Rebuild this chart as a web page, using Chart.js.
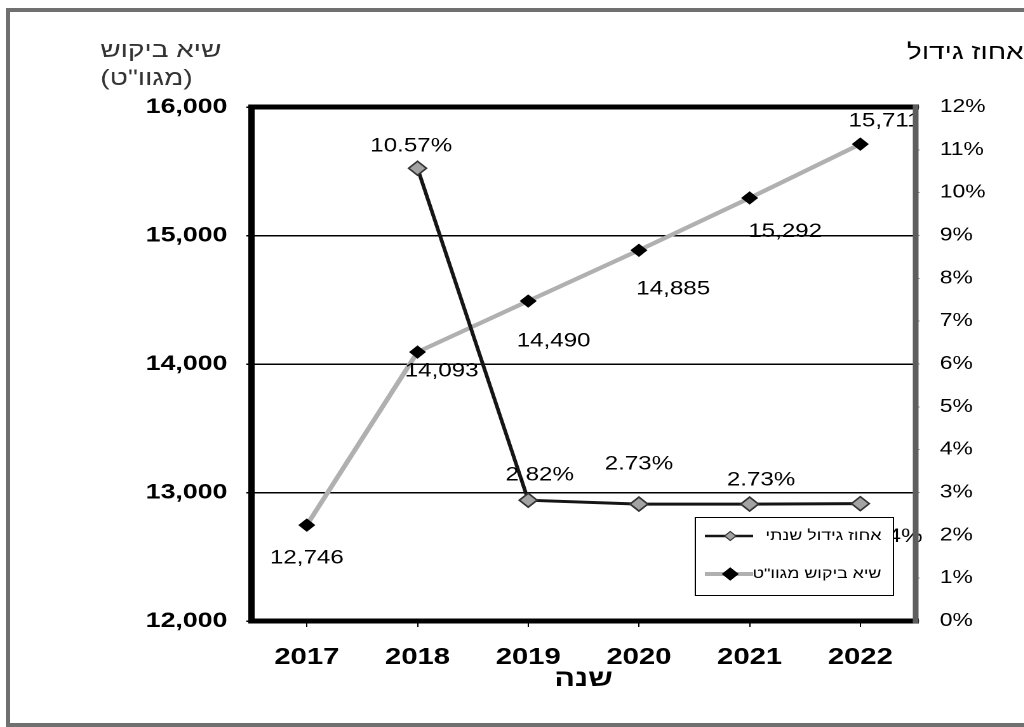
<!DOCTYPE html>
<html>
<head>
<meta charset="utf-8">
<script src="https://cdn.jsdelivr.net/npm/chart.js"></script>
<style>
  html, body { margin: 0; padding: 0; background: #fff; overflow: hidden; }
  #frame { position: absolute; left: 6px; top: 8px; width: 1100px; height: 711px; border: 4px solid #707070; }
  /* the chart is laid out narrow and stretched sideways */
  #wrap { position: absolute; left: 0; top: 0; width: 806px; height: 727px; transform: scaleX(1.27); transform-origin: 0 0; }
</style>
</head>
<body>
<div id="frame"></div>
<div id="wrap"><canvas id="peakChart" width="806" height="727"></canvas></div>
<script>
const FONT = "Arial, 'Liberation Sans', 'DejaVu Sans', sans-serif";

// data
const years = ['2017', '2018', '2019', '2020', '2021', '2022'];
const peakDemand = [12746, 14093, 14490, 14885, 15292, 15711];   // MW
const growthPct = [null, 10.57, 2.82, 2.73, 2.73, 2.74];         // %
const demandAxis = { min: 12000, max: 16000, step: 1000 };
const growthAxis = { min: 0, max: 12, step: 1 };
const growthLabel = 'אחוז גידול שנתי';
const demandLabel = 'שיא ביקוש מגוו"ט';

// where each value label sits relative to its point
const demandLabelOffsets = [[0, 33], [19, 19], [20, 40], [27, 39], [28, 34], [19, -23]];
const growthLabelOffsets = [null, [-5, -22], [9, -25], [0, -40], [9, -24], [22, 33]];

Chart.defaults.font.family = FONT;
Chart.defaults.color = '#000';

function drawValueLabels(c, meta, values, offsets, fmt) {
  meta.data.forEach((pt, i) => {
    if (values[i] == null || !offsets[i]) return;
    c.fillText(fmt(values[i]), pt.x + offsets[i][0], pt.y + offsets[i][1]);
  });
}

function drawDiamond(c, x, y, r, fill, stroke, lw) {
  c.beginPath();
  c.moveTo(x, y - r); c.lineTo(x + r, y); c.lineTo(x, y + r); c.lineTo(x - r, y); c.closePath();
  c.fillStyle = fill; c.fill();
  c.lineWidth = lw; c.strokeStyle = stroke; c.stroke();
}

const chartDecor = {
  id: 'chartDecor',
  afterDatasetsDraw(chart) {
    const c = chart.ctx;
    const area = chart.chartArea;
    const ds = chart.data.datasets;
    c.save();

    // value labels (demand labels are cut off at the plot edge)
    c.font = '19px ' + FONT;
    c.fillStyle = '#000';
    c.textAlign = 'center';
    c.textBaseline = 'middle';
    c.save();
    c.beginPath();
    c.rect(0, 0, area.right, chart.height);
    c.clip();
    drawValueLabels(c, chart.getDatasetMeta(1), peakDemand, demandLabelOffsets, v => v.toLocaleString('en-US'));
    c.restore();
    drawValueLabels(c, chart.getDatasetMeta(0), growthPct, growthLabelOffsets, v => v.toFixed(2) + '%');

    // plot frame: heavy black on three sides, grey on the right
    c.lineCap = 'square';
    c.strokeStyle = '#000';
    c.lineWidth = 5;
    c.beginPath();
    c.moveTo(area.right, area.top);
    c.lineTo(area.left, area.top);
    c.lineTo(area.left, area.bottom);
    c.lineTo(area.right, area.bottom);
    c.stroke();
    c.strokeStyle = '#5e5e5e';
    c.lineWidth = 4.5;
    c.beginPath();
    c.moveTo(area.right, area.top);
    c.lineTo(area.right, area.bottom);
    c.stroke();

    // legend box inside the plot, lower right
    const box = { x: area.right - 174, y: area.bottom - 104, w: 156, h: 78 };
    c.lineCap = 'butt';
    c.fillStyle = '#fff';
    c.fillRect(box.x, box.y, box.w, box.h);
    c.strokeStyle = '#000';
    c.lineWidth = 1;
    c.strokeRect(box.x + 0.5, box.y + 0.5, box.w, box.h);
    const rows = [box.y + 19, box.y + 57];
    [0, 1].forEach(k => {
      const d = ds[k];
      const y = rows[k];
      const cx = box.x + 28;
      c.strokeStyle = d.borderColor;
      c.lineWidth = k === 0 ? 2.5 : 4;
      c.beginPath(); c.moveTo(cx - 20, y); c.lineTo(cx + 18, y); c.stroke();
      drawDiamond(c, cx, y, k === 0 ? 4.5 : 6, d.pointBackgroundColor, d.pointBorderColor, 1);
      c.font = '14px ' + FONT;
      c.fillStyle = '#000';
      c.direction = 'rtl';
      c.textAlign = 'right';
      c.textBaseline = 'middle';
      c.fillText(d.label, box.x + box.w - 9, y);
      c.direction = 'ltr';
    });
    c.restore();
  },
  afterDraw(chart) {
    const c = chart.ctx;
    c.save();
    c.font = '22px ' + FONT;
    c.direction = 'rtl';
    c.textBaseline = 'alphabetic';
    // left axis title, two lines
    c.fillStyle = '#333';
    c.textAlign = 'left';
    c.fillText('שיא ביקוש', 79, 57);
    c.fillText('(מגוו"ט)', 79, 85);
    // right axis title
    c.fillStyle = '#000';
    c.textAlign = 'right';
    c.fillText('אחוז גידול', 806, 59);
    c.restore();
  }
};

const ctx = document.getElementById('peakChart').getContext('2d');
new Chart(ctx, {
  type: 'line',
  data: {
    labels: years,
    datasets: [
      {
        label: growthLabel,
        data: growthPct,
        yAxisID: 'y2',
        borderColor: '#151515',
        borderWidth: 3,
        pointStyle: 'rectRot',
        pointRadius: 7,
        pointBackgroundColor: '#a3a3a3',
        pointBorderColor: '#333',
        pointBorderWidth: 1.5,
        tension: 0
      },
      {
        label: demandLabel,
        data: peakDemand,
        yAxisID: 'y',
        borderColor: '#b0b0b0',
        borderWidth: 4,
        pointStyle: 'rectRot',
        pointRadius: 6,
        pointBackgroundColor: '#000',
        pointBorderColor: '#000',
        pointBorderWidth: 1,
        tension: 0
      }
    ]
  },
  options: {
    responsive: false,
    animation: false,
    devicePixelRatio: 2,
    layout: { padding: { top: 107, left: 0, right: 0, bottom: 0 } },
    plugins: {
      legend: { display: false },
      tooltip: { enabled: false }
    },
    scales: {
      x: {
        offset: true,
        grid: { drawOnChartArea: false, color: '#000', tickLength: 6 },
        border: { display: false },
        ticks: { font: { size: 23, weight: 'bold' }, padding: 17, maxRotation: 0 },
        title: {
          display: true,
          text: 'שנה',
          font: { size: 24, weight: 'bold' },
          padding: { top: 0, bottom: 33 }
        },
        afterFit: s => { s.height = 106; }
      },
      y: {
        position: 'left',
        min: demandAxis.min,
        max: demandAxis.max,
        ticks: {
          stepSize: demandAxis.step,
          callback: v => v.toLocaleString('en-US'),
          font: { size: 21, weight: 'bold' },
          padding: 15
        },
        grid: { color: '#000', lineWidth: 1.5, tickLength: 4 },
        border: { display: false },
        afterFit: s => { s.width = 198; }
      },
      y2: {
        position: 'right',
        min: growthAxis.min,
        max: growthAxis.max,
        ticks: {
          stepSize: growthAxis.step,
          callback: v => v + '%',
          font: { size: 18 },
          padding: 16
        },
        grid: { drawOnChartArea: false, color: '#777', tickLength: 3 },
        border: { display: false },
        afterFit: s => { s.width = 85; }
      }
    }
  },
  plugins: [chartDecor]
});
</script>
</body>
</html>
